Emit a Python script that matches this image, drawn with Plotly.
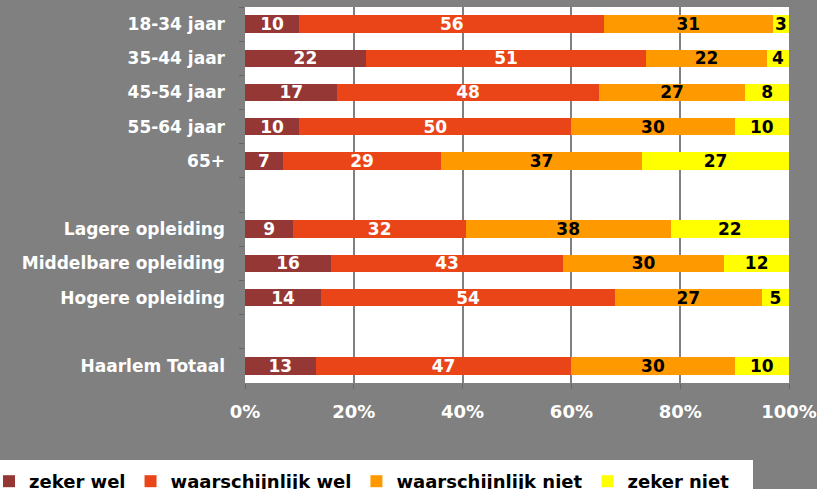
import plotly.graph_objects as go

categories = ["18-34 jaar", "35-44 jaar", "45-54 jaar", "55-64 jaar", "65+", " ",
              "Lagere opleiding", "Middelbare opleiding", "Hogere opleiding", "  ",
              "Haarlem Totaal"]
series_names = ["zeker wel", "waarschijnlijk wel", "waarschijnlijk niet", "zeker niet"]
zeker_wel = [10, 22, 17, 10, 7, None, 9, 16, 14, None, 13]
waarschijnlijk_wel = [56, 51, 48, 50, 29, None, 32, 43, 54, None, 47]
waarschijnlijk_niet = [31, 22, 27, 30, 37, None, 38, 30, 27, None, 30]
zeker_niet = [3, 4, 8, 10, 27, None, 22, 12, 5, None, 10]
colors = ["#953735", "#EA4519", "#FF9900", "#FFFF00"]
text_colors = ["white", "white", "black", "black"]
x_ticks = [0, 20, 40, 60, 80, 100]
x_tick_labels = ["0%", "20%", "40%", "60%", "80%", "100%"]

FONT = "DejaVu Sans"
W, H = 817, 489
ML, MR, MT, MB = 245, 28, 7, 106
PW, PH = W - ML - MR, H - MT - MB

def px_to_paper_x(px):
    return (px - ML) / PW

def py_to_paper_y(py):
    return (H - MB - py) / PH

fig = go.Figure()
for name, vals, col, tcol in zip(series_names,
                                 [zeker_wel, waarschijnlijk_wel, waarschijnlijk_niet, zeker_niet],
                                 colors, text_colors):
    fig.add_trace(go.Bar(
        name=name, y=categories, x=vals, orientation="h",
        marker=dict(color=col, line=dict(width=0)),
        text=[("" if v is None else str(v)) for v in vals],
        texttemplate="%{text}",
        textposition="inside", insidetextanchor="middle", textangle=0,
        textfont=dict(family=FONT, size=17, color=tcol, weight="bold"),
        hoverinfo="skip",
    ))

# white legend strip
fig.add_shape(type="rect", xref="paper", yref="paper",
              x0=px_to_paper_x(0), x1=px_to_paper_x(753),
              y0=py_to_paper_y(495), y1=py_to_paper_y(460),
              fillcolor="white", line=dict(width=0), layer="below")

fig.update_layout(
    width=W, height=H,
    margin=dict(l=ML, r=MR, t=MT, b=MB, autoexpand=False),
    barmode="stack", barnorm="percent", bargap=0.49,
    paper_bgcolor="#808080", plot_bgcolor="white",
    uniformtext=dict(minsize=17, mode="show"),
    font=dict(family=FONT, weight="bold"),
    legend=dict(orientation="h", x=px_to_paper_x(-11), xanchor="left",
                y=py_to_paper_y(463), yanchor="top",
                bgcolor="rgba(0,0,0,0)", traceorder="normal",
                font=dict(family=FONT, size=18, color="black", weight="bold"),
                itemwidth=30),
    xaxis=dict(range=[0, 100], tickvals=x_ticks, ticktext=x_tick_labels,
               showgrid=True, gridcolor="#808080", gridwidth=2,
               zeroline=False, ticks="outside", ticklen=5, tickcolor="#666666",
               ticklabelstandoff=7,
               tickfont=dict(size=18, color="white", weight="bold"),
               automargin=False, fixedrange=True),
    yaxis=dict(type="category", categoryorder="array", categoryarray=categories,
               autorange="reversed", showgrid=False, ticks="outside",
               tickson="boundaries", ticklen=5, tickcolor="#666666",
               ticklabelstandoff=19, automargin=False,
               tickfont=dict(size=17, color="white", weight="bold")),
)

fig.write_html("out.html", config={"displayModeBar": False},
               post_script="document.body.style.margin='0';document.body.style.overflow='hidden';")
